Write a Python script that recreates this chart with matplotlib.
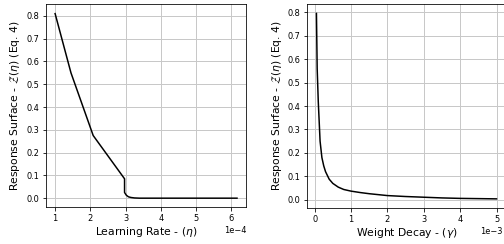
import matplotlib
matplotlib.use("Agg")
import matplotlib.pyplot as plt

# Learning rate sweep (x in units of 1e-4)
lr_x = [1.0, 1.45, 2.08, 2.97, 2.97, 3.02, 3.08, 3.15, 3.25, 3.4, 4.0, 5.0, 6.16]
lr_y = [0.81, 0.55, 0.275, 0.085, 0.025, 0.013, 0.006, 0.003, 0.001, 0.0, 0.0, 0.0, 0.0]

# Weight decay sweep (x in units of 1e-3)
wd_x = [0.05, 0.07, 0.1, 0.15, 0.2, 0.25, 0.3, 0.4, 0.5, 0.65, 0.8, 1.0,
        1.25, 1.5, 2.0, 2.5, 3.0, 3.5, 4.0, 4.5, 5.0]
wd_y = [0.795, 0.56, 0.42, 0.25, 0.18, 0.145, 0.12, 0.088, 0.07, 0.054, 0.044, 0.037,
        0.031, 0.026, 0.018, 0.014, 0.011, 0.008, 0.006, 0.005, 0.004]

ylab = r"Response Surface - $\mathcal{Z}(\eta)$ (Eq. 4)"

fig = plt.figure(figsize=(504 / 72, 244 / 72), dpi=72)
ax1 = fig.add_axes([0.0913, 0.15, 0.397, 0.832])
ax2 = fig.add_axes([0.61, 0.147, 0.393, 0.836])

ax1.plot([v * 1e-4 for v in lr_x], lr_y, color="black", lw=1.5)
ax2.plot([v * 1e-3 for v in wd_x], wd_y, color="black", lw=1.5)

for ax, xl in ((ax1, r"Learning Rate - ($\eta$)"), (ax2, r"Weight Decay - ($\gamma$)")):
    ax.grid(True, color="#c8c8c8", lw=1.0)
    ax.set_axisbelow(True)
    ax.set_xlabel(xl, fontsize=10.8, labelpad=2)
    ax.set_ylabel(ylab, fontsize=10.8, labelpad=4)
    ax.tick_params(labelsize=8.2)
    ax.ticklabel_format(axis="x", style="sci", scilimits=(0, 0))
    ax.xaxis.get_offset_text().set_fontsize(8.2)
    ax.set_yticks([0.0, 0.1, 0.2, 0.3, 0.4, 0.5, 0.6, 0.7, 0.8])

ax1.set_xticks([1e-4, 2e-4, 3e-4, 4e-4, 5e-4, 6e-4])
ax2.set_xticks([0, 1e-3, 2e-3, 3e-3, 4e-3, 5e-3])
# keep the offset label inside the figure
ax2.xaxis.get_offset_text().set_x(0.985)

fig.savefig("out.png", dpi=72)
